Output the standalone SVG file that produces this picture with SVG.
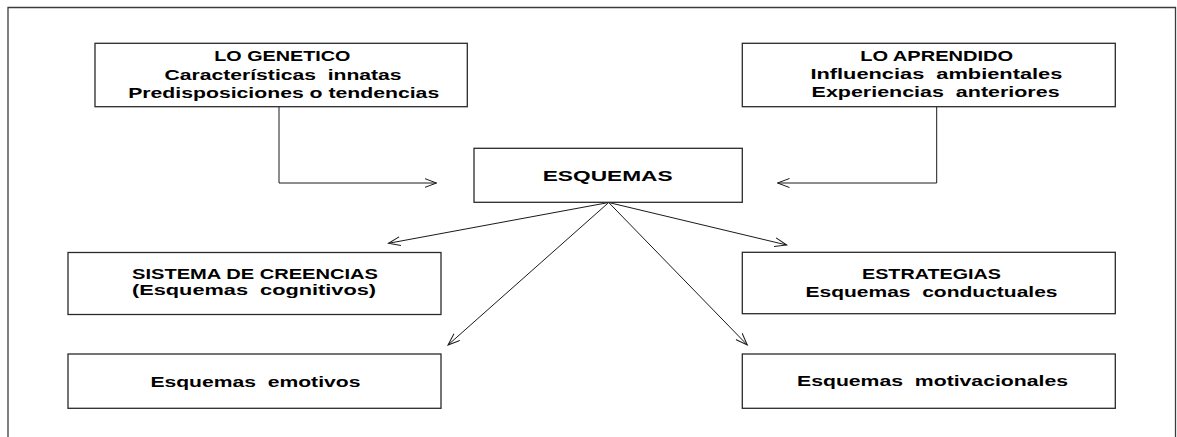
<svg xmlns="http://www.w3.org/2000/svg" width="1177" height="437" viewBox="0 0 1177 437">
  <style>
    .box { fill: #ffffff; stroke: #2a2a2a; stroke-width: 1.3; }
    .frame { fill: none; stroke: #3c3c3c; stroke-width: 1.3; }
    .lbl { font-family: "Liberation Sans", "Open Sans", sans-serif; font-weight: bold; font-size: 15px; fill: #000000; white-space: pre; }
    .tight { font-size: 14.5px; }
    .link { fill: none; stroke: #1a1a1a; stroke-width: 1; }
  </style>
  <defs>
    <marker id="arrow" markerUnits="userSpaceOnUse" markerWidth="14" markerHeight="12" refX="12" refY="5" orient="auto">
      <path d="M0,0.5 L12,5 L0,9.5" fill="none" stroke="#1a1a1a" stroke-width="1"/>
    </marker>
  </defs>

  <rect width="1177" height="437" fill="#ffffff"/>
  <!-- outer frame, open at the bottom -->
  <path class="frame" d="M8,437 V7.5 H1175.5 V437"/>

  <!-- connectors -->
  <g id="connectors">
    <path class="link" d="M279,107 V183 H436.5" marker-end="url(#arrow)"/>
    <path class="link" d="M936.7,107 V183 H777.5" marker-end="url(#arrow)"/>
    <path class="link" d="M608.7,202.5 L388.5,243.3" marker-end="url(#arrow)"/>
    <path class="link" d="M608.7,202.5 L448,345" marker-end="url(#arrow)"/>
    <path class="link" d="M608.7,202.5 L786.7,245" marker-end="url(#arrow)"/>
    <path class="link" d="M608.7,202.5 L747.3,345" marker-end="url(#arrow)"/>
  </g>

  <g id="lo-genetico">
    <rect class="box" x="95" y="43.3" width="372.3" height="63.4"/>
    <text class="lbl" x="214.3" y="61" textLength="136" lengthAdjust="spacingAndGlyphs">LO GENETICO</text>
    <text class="lbl" x="164.6" y="79.5" textLength="237" lengthAdjust="spacingAndGlyphs">Características  innatas</text>
    <text class="lbl" x="128.2" y="97.5" textLength="311" lengthAdjust="spacingAndGlyphs">Predisposiciones o tendencias</text>
  </g>

  <g id="lo-aprendido">
    <rect class="box" x="742.3" y="43.3" width="373" height="63.4"/>
    <text class="lbl" x="860.2" y="61" textLength="153" lengthAdjust="spacingAndGlyphs">LO APRENDIDO</text>
    <text class="lbl" x="810.4" y="79.2" textLength="252" lengthAdjust="spacingAndGlyphs">Influencias  ambientales</text>
    <text class="lbl" x="811.6" y="97" textLength="248" lengthAdjust="spacingAndGlyphs">Experiencias  anteriores</text>
  </g>

  <g id="esquemas">
    <rect class="box" x="474" y="148.3" width="268.3" height="54"/>
    <text class="lbl" x="542.7" y="180.7" textLength="130" lengthAdjust="spacingAndGlyphs">ESQUEMAS</text>
  </g>

  <g id="sistema-creencias">
    <rect class="box" x="68" y="252.5" width="373" height="62"/>
    <text class="lbl tight" x="132" y="278.6" textLength="246" lengthAdjust="spacingAndGlyphs">SISTEMA DE CREENCIAS</text>
    <text class="lbl tight" x="132" y="295" textLength="244" lengthAdjust="spacingAndGlyphs">(Esquemas  cognitivos)</text>
  </g>

  <g id="esquemas-emotivos">
    <rect class="box" x="68" y="354" width="373" height="54.3"/>
    <text class="lbl" x="150.4" y="386.5" textLength="210" lengthAdjust="spacingAndGlyphs">Esquemas  emotivos</text>
  </g>

  <g id="estrategias">
    <rect class="box" x="742.3" y="252.3" width="373" height="61.4"/>
    <text class="lbl" x="862" y="278.5" textLength="139" lengthAdjust="spacingAndGlyphs">ESTRATEGIAS</text>
    <text class="lbl" x="805.5" y="296.5" textLength="252" lengthAdjust="spacingAndGlyphs">Esquemas  conductuales</text>
  </g>

  <g id="esquemas-motivacionales">
    <rect class="box" x="742.3" y="354" width="373" height="54.3"/>
    <text class="lbl" x="797" y="386" textLength="271" lengthAdjust="spacingAndGlyphs">Esquemas  motivacionales</text>
  </g>
</svg>
